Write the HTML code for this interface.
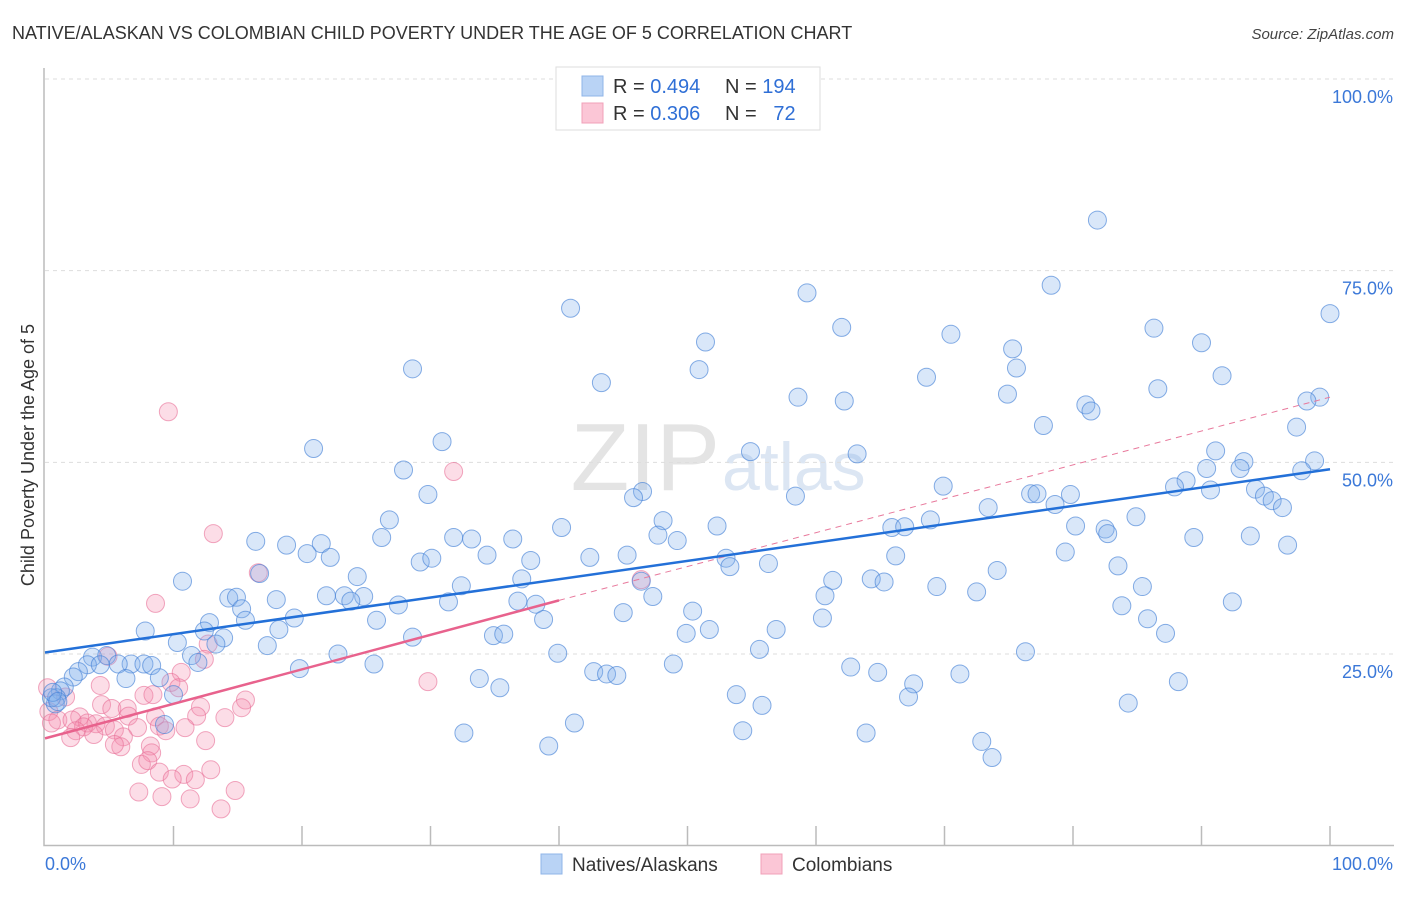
<!DOCTYPE html>
<html><head><meta charset="utf-8"><style>
body{margin:0;background:#fff;font-family:"Liberation Sans",sans-serif;}
svg text{font-family:"Liberation Sans",sans-serif;}
</style></head><body>
<svg id="chart" width="1406" height="892" viewBox="0 0 1406 892" xmlns="http://www.w3.org/2000/svg">
<text x="12" y="39" font-size="18" fill="#333">NATIVE/ALASKAN VS COLOMBIAN CHILD POVERTY UNDER THE AGE OF 5 CORRELATION CHART</text>
<text x="1394" y="39" font-size="15" fill="#444" text-anchor="end" font-style="italic">Source: ZipAtlas.com</text>
<text x="720" y="490" font-size="96" fill="#e4e4e4" text-anchor="end" font-family="Liberation Serif">ZIP</text>
<text x="722" y="490" font-size="68" fill="#dce6f3">atlas</text>
<g id="grid"></g>
<g id="axes"></g>
<g id="marks"></g>
<g>
<rect x="556" y="67" width="264" height="63" fill="#fff" stroke="#ddd"/>
<rect x="582" y="76" width="21" height="20" fill="#b9d3f5" stroke="#8fb5e8"/>
<rect x="582" y="103" width="21" height="20" fill="#fbc6d6" stroke="#f0a0b8"/>
<text x="613" y="93" font-size="20" fill="#333">R = <tspan fill="#2f6fd6">0.494</tspan></text>
<text x="725" y="93" font-size="20" fill="#333">N = <tspan fill="#2f6fd6">194</tspan></text>
<text x="613" y="120" font-size="20" fill="#333">R = <tspan fill="#2f6fd6">0.306</tspan></text>
<text x="725" y="120" font-size="20" fill="#333">N = <tspan fill="#2f6fd6">&#160;&#160;72</tspan></text>
</g>
<g>
<rect x="541" y="854" width="21" height="20" fill="#b9d3f5" stroke="#8fb5e8"/>
<text x="572" y="871" font-size="19" fill="#333">Natives/Alaskans</text>
<rect x="761" y="854" width="21" height="20" fill="#fbc6d6" stroke="#f0a0b8"/>
<text x="792" y="871" font-size="19" fill="#333">Colombians</text>
</g>
<text transform="translate(34,455) rotate(-90)" font-size="18" fill="#333" text-anchor="middle">Child Poverty Under the Age of 5</text>
</svg>
<script>
const yTicks=[25,50,75,100];
const yTickLabels=["25.0%","50.0%","75.0%","100.0%"];
const xTickVals=[0,10,20,30,40,50,60,70,80,90,100];
const blueX=[81.9,78.3,59.3,40.9,100,62.0,70.5,86.3,51.4,75.3,90,28.6,50.9,75.6,68.6,43.3,91.6,86.6,58.6,74.9,62.2,99.2,98.2,81.0,81.4,77.7,97.4,20.9,30.9,54.9,63.2,91.1,93.3,93.0,27.9,98.8,97.8,90.4,88.8,87.9,90.7,69.9,46.5,45.8,29.8,58.4,76.7,77.2,79.8,78.6,94.2,94.9,95.5,96.3,73.4,26.8,48.1,52.3,68.9,84.9,40.2,65.9,66.9,80.2,82.5,82.7,93.8,89.4,96.7,16.4,18.8,21.5,26.2,31.8,33.2,36.4,47.7,49.2,20.4,22.2,29.2,30.1,34.4,37.8,42.4,45.3,53.0,53.3,56.3,66.2,79.4,83.5,74.1,16.7,24.3,37.1,46.4,61.3,64.3,65.3,10.7,85.4,69.4,32.4,14.3,14.9,18.0,21.9,23.3,24.8,72.5,47.3,60.7,15.3,23.8,27.5,31.4,36.8,38.2,83.8,92.4,85.8,15.6,19.4,25.8,38.8,45.0,50.4,60.5,12.8,18.2,7.8,51.7,56.9,49.9,87.2,12.4,13.9,28.6,34.9,35.7,13.3,10.3,17.3,55.6,39.9,22.8,76.3,3.7,4.8,11.4,6.7,7.7,8.3,3.3,5.7,4.3,11.9,25.6,48.9,62.7,2.6,2.2,19.8,6.3,8.9,42.7,43.7,44.5,64.8,71.2,33.8,88.2,67.6,35.4,1.5,1.2,53.8,67.2,10.0,0.9,55.8,84.3,0.8,9.3,41.2,54.3,32.6,63.9,39.2,72.9,73.7,0.5,0.6,1.0];
const blueY=[81.6,73.1,72.1,70.1,69.4,67.6,66.7,67.5,65.7,64.8,65.6,62.2,62.1,62.3,61.1,60.4,61.3,59.6,58.5,58.9,58.0,58.5,58.0,57.5,56.7,54.8,54.6,51.8,52.7,51.4,51.1,51.5,50.1,49.2,49.0,50.2,48.9,49.2,47.6,46.8,46.4,46.9,46.2,45.4,45.8,45.6,45.9,45.9,45.8,44.5,46.5,45.6,45.0,44.1,44.1,42.5,42.4,41.7,42.5,42.9,41.5,41.5,41.6,41.7,41.3,40.7,40.4,40.2,39.2,39.7,39.2,39.4,40.2,40.2,40.0,40.0,40.5,39.8,38.1,37.6,37.0,37.5,37.9,37.2,37.6,37.9,37.5,36.4,36.8,37.8,38.3,36.5,35.9,35.5,35.1,34.8,34.5,34.6,34.8,34.4,34.5,33.8,33.8,33.9,32.3,32.4,32.1,32.6,32.6,32.5,33.1,32.5,32.6,30.9,31.9,31.4,31.8,31.9,31.5,31.3,31.8,29.6,29.4,29.7,29.4,29.5,30.4,30.6,29.7,29.1,28.2,28.0,28.2,28.2,27.7,27.7,28.0,27.1,27.2,27.4,27.6,26.3,26.5,26.1,25.6,25.1,25.0,25.3,24.6,24.8,24.8,23.7,23.7,23.5,23.6,23.7,23.6,23.9,23.7,23.7,23.3,22.7,22.0,23.1,21.8,21.9,22.7,22.4,22.2,22.6,22.4,21.8,21.4,21.1,20.6,20.7,20.2,19.7,19.4,19.7,19.3,18.3,18.6,18.5,15.8,16.0,15.0,14.7,14.7,13.0,13.6,11.5,19.3,20.0,18.8];
const pinkX=[9.6,31.8,13.1,16.6,8.6,12.7,12.4,4.9,10.6,29.8,9.8,10.4,4.3,0.2,1.6,7.7,8.4,15.6,15.3,12.1,4.4,5.2,6.4,0.3,2.7,11.8,14.0,6.5,8.6,1.0,2.1,3.3,3.97,4.7,3.0,8.9,5.4,7.2,2.4,10.9,9.4,6.1,3.8,2.0,12.5,8.2,5.9,5.4,8.3,7.5,8.0,8.9,12.9,10.8,9.9,11.7,7.3,14.8,9.1,11.3,13.7,46.4,0.5];
const pinkY=[56.6,48.8,40.7,35.6,31.6,26.3,24.3,24.7,22.6,21.4,21.3,20.6,20.9,20.6,19.4,19.6,19.7,19.0,18.0,18.1,18.4,17.9,17.9,17.5,16.8,16.9,16.7,16.9,16.8,16.4,16.4,16.0,15.9,15.6,15.5,15.6,15.1,15.4,15.0,15.4,15.0,14.2,14.5,14.1,13.7,13.0,12.9,13.2,12.1,10.6,11.1,9.6,9.9,9.3,8.7,8.6,7.0,7.2,6.4,6.1,4.8,34.7,16.0];
const blueLine=[[0,25.2],[100,49.1]];
const pinkLine=[[0,14.0],[40,32.0]];
const pinkDash=[[40,32.0],[100,58.5]];

const X0=45,X1=1330,Y0=845.7,Y100=79;
const sx=v=>X0+(X1-X0)*v/100;
const sy=v=>Y0+(Y100-Y0)*v/100;
const NS="http://www.w3.org/2000/svg";
function mk(tag,attrs,parent){const e=document.createElementNS(NS,tag);for(const k in attrs)e.setAttribute(k,attrs[k]);parent.appendChild(e);return e;}
const grid=document.getElementById('grid'),axes=document.getElementById('axes'),marks=document.getElementById('marks');
yTicks.forEach((t,i)=>{
  const l=mk('line',{x1:45,x2:1394,y1:sy(t),y2:sy(t),stroke:'#ddd','stroke-dasharray':'4,4'},grid);
  
  
  const tx=mk('text',{x:1393,y:sy(t)+24,'font-size':18,fill:'#3b78d8','text-anchor':'end'},axes);
  tx.textContent=yTickLabels[i];
  
  
});
const ax=mk('path',{d:`M44,68 V845.5 H1394`,stroke:'#bbb',fill:'none','stroke-width':1.5},axes);


xTickVals.forEach(v=>{
  if(v===0)return;
  const t=mk('line',{x1:sx(v),x2:sx(v),y1:826,y2:845,stroke:'#bbb','stroke-width':1.5},axes);
  
  
});
const xl0=mk('text',{x:45,y:870,'font-size':18,fill:'#3b78d8'},axes);xl0.textContent='0.0%';


const xl1=mk('text',{x:1393,y:870,'font-size':18,fill:'#3b78d8','text-anchor':'end'},axes);xl1.textContent='100.0%';



pinkX.forEach((x,i)=>{
  const c=mk('circle',{cx:sx(x),cy:sy(pinkY[i]),r:9,fill:'rgba(244,143,177,0.3)',stroke:'rgba(232,110,150,0.6)','stroke-width':1},marks);
  
  
});
blueX.forEach((x,i)=>{
  const c=mk('circle',{cx:sx(x),cy:sy(blueY[i]),r:9,fill:'rgba(130,175,235,0.3)',stroke:'rgba(70,130,215,0.65)','stroke-width':1},marks);
  
  
});
const pd=mk('line',{x1:sx(pinkDash[0][0]),y1:sy(pinkDash[0][1]),x2:sx(pinkDash[1][0]),y2:sy(pinkDash[1][1]),stroke:'#e8799c','stroke-width':1,'stroke-dasharray':'6,5'},marks);


const pl=mk('line',{x1:sx(pinkLine[0][0]),y1:sy(pinkLine[0][1]),x2:sx(pinkLine[1][0]),y2:sy(pinkLine[1][1]),stroke:'#e8628d','stroke-width':2.5},marks);


const bl=mk('line',{x1:sx(blueLine[0][0]),y1:sy(blueLine[0][1]),x2:sx(blueLine[1][0]),y2:sy(blueLine[1][1]),stroke:'#2370d8','stroke-width':2.5},marks);


</script>
</body></html>
